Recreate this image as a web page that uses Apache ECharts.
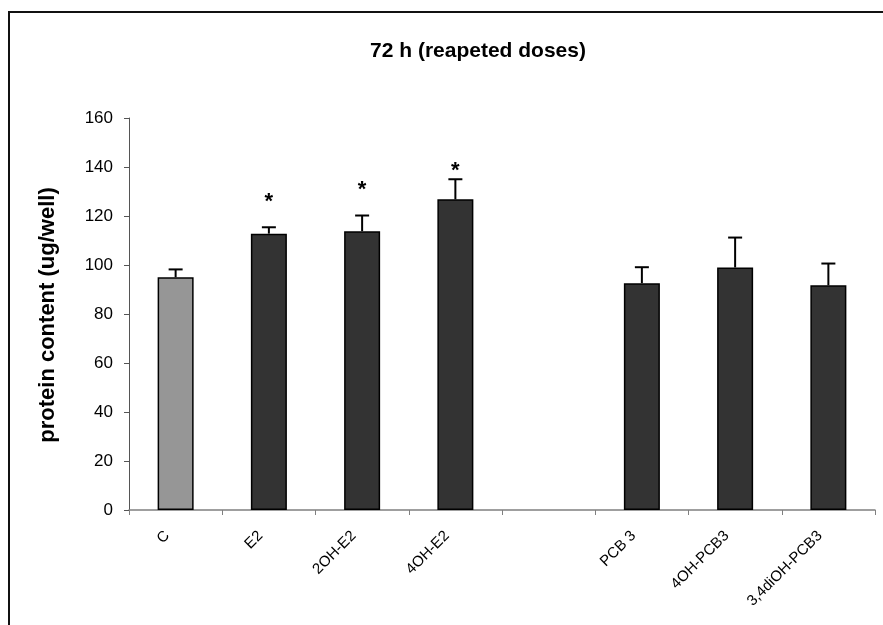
<!DOCTYPE html>
<html>
<head>
<meta charset="utf-8">
<title>72 h (reapeted doses)</title>
<script src="https://cdn.jsdelivr.net/npm/echarts@6/dist/echarts.min.js"></script>
<style>
  html, body { margin: 0; padding: 0; background: #fff; }
  #chart { width: 883px; height: 625px; }
</style>
</head>
<body>
<div id="chart"></div>
<script>
// categories (the empty one is the gap between the E2 group and the PCB group)
const categories = ['C', 'E2', '2OH-E2', '4OH-E2', '', 'PCB 3', '4OH-PCB3', '3,4diOH-PCB3']
// mean protein content (ug/well)
const means = [95, 112.8, 113.8, 126.8, null, 92.6, 99, 91.7]
// upper error (SD)
const errors = [3.2, 2.6, 6.4, 8.2, null, 6.5, 12.2, 8.9]
// significance markers and the height they sit at
const sigMarks = ['', '*', '*', '*', '', '', '', '']
const sigLevels = [null, 127.7, 132.5, 140.3, null, null, null, null]
const yTicks = { min: 0, max: 160, step: 20 }

const chart = echarts.init(document.getElementById('chart'))
const font = 'Liberation Sans, Arial, sans-serif'

const option = {
  animation: false,
  backgroundColor: '#fff',
  grid: { left: 129, right: 8, top: 118, bottom: 115 },
  graphic: [
    // outer frame (right/bottom edges fall off the picture)
    {
      type: 'rect',
      shape: { x: 9, y: 12, width: 900, height: 700 },
      style: { fill: null, stroke: '#111', lineWidth: 2 },
      silent: true
    },
    {
      type: 'text',
      x: 478,
      y: 51,
      style: {
        text: '72 h (reapeted doses)',
        font: 'bold 21px ' + font,
        fill: '#000',
        align: 'center',
        verticalAlign: 'middle'
      }
    },
    {
      type: 'text',
      x: 48,
      y: 315,
      rotation: Math.PI / 2,
      style: {
        text: 'protein content (ug/well)',
        font: 'bold 22px ' + font,
        fill: '#000',
        align: 'center',
        verticalAlign: 'middle'
      }
    }
  ],
  xAxis: {
    type: 'category',
    data: categories,
    boundaryGap: true,
    axisLine: { lineStyle: { color: '#808080', width: 1.5 } },
    axisTick: { show: true, interval: 0, length: 5, lineStyle: { color: '#808080' } },
    axisLabel: {
      interval: 0,
      rotate: 45,
      margin: 15,
      padding: [0, 12, 0, 0],
      fontSize: 15,
      fontFamily: font,
      color: '#000'
    },
    splitLine: { show: false }
  },
  yAxis: {
    type: 'value',
    min: yTicks.min,
    max: yTicks.max,
    interval: yTicks.step,
    axisLine: { show: true, lineStyle: { color: '#555', width: 1 } },
    axisTick: { show: true, length: 5, lineStyle: { color: '#555' } },
    axisLabel: { fontSize: 17, fontFamily: font, color: '#000', margin: 16 },
    splitLine: { show: false }
  },
  series: [
    {
      type: 'bar',
      barWidth: 36,
      data: means.map((v, i) => ({
        value: v,
        itemStyle: { color: i === 0 ? '#969696' : '#333333' }
      })),
      itemStyle: { borderColor: '#000', borderWidth: 1.5 },
      z: 2
    },
    {
      // upper error bars
      type: 'custom',
      z: 3,
      data: means.map((v, i) => [i, v, v == null ? null : v + errors[i]]),
      renderItem: (params, api) => {
        if (api.value(1) == null || isNaN(api.value(1))) return
        const base = api.coord([api.value(0), api.value(1)])
        const top = api.coord([api.value(0), api.value(2)])
        const half = 7
        const style = { stroke: '#000', lineWidth: 2 }
        return {
          type: 'group',
          children: [
            { type: 'line', shape: { x1: base[0], y1: base[1], x2: top[0], y2: top[1] }, style },
            { type: 'line', shape: { x1: top[0] - half, y1: top[1], x2: top[0] + half, y2: top[1] }, style }
          ]
        }
      }
    },
    {
      // significance asterisks
      type: 'custom',
      z: 4,
      data: sigLevels.map((v, i) => [i, v]),
      renderItem: (params, api) => {
        const idx = params.dataIndex
        if (!sigMarks[idx]) return
        const p = api.coord([api.value(0), api.value(1)])
        return {
          type: 'text',
          x: p[0],
          y: p[1] + 5,
          style: {
            text: sigMarks[idx],
            font: 'bold 22px ' + font,
            fill: '#000',
            align: 'center',
            verticalAlign: 'middle'
          }
        }
      }
    }
  ]
}

chart.setOption(option)
</script>
</body>
</html>
